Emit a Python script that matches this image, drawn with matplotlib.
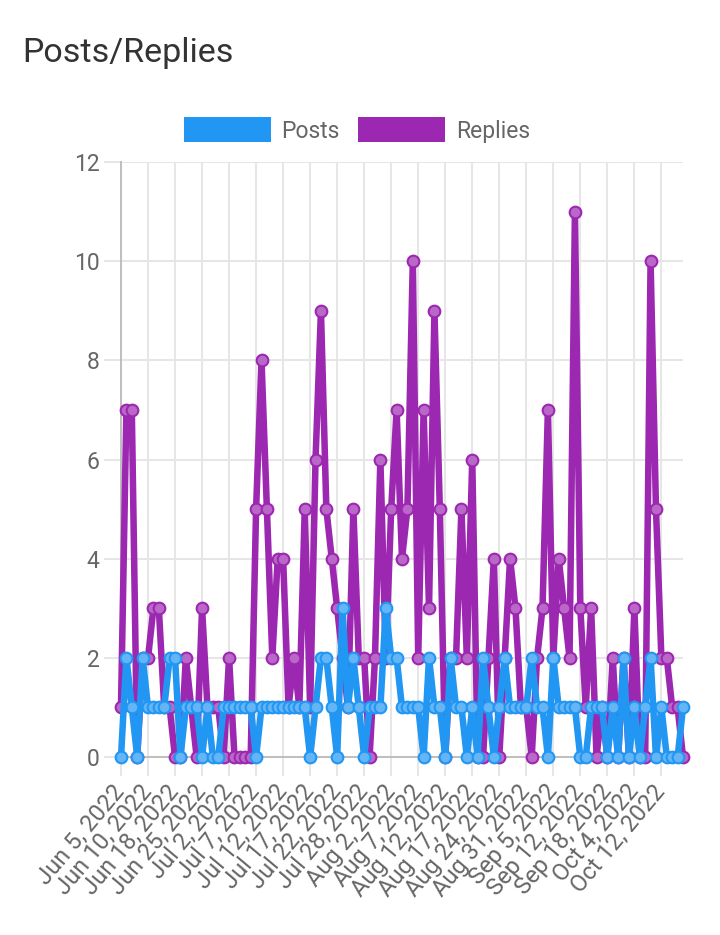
import matplotlib
matplotlib.use("Agg")
import matplotlib.pyplot as plt
from matplotlib.patches import Patch
import numpy as np

plt.rcParams['font.family'] = ['Roboto', 'DejaVu Sans']

# ---- data ----
posts = [0, 2, 1, 0, 2, 1, 1, 1, 1, 2, 2, 0, 1, 1, 1, 0, 1, 0, 0, 1,
         1, 1, 1, 1, 1, 0, 1, 1, 1, 1, 1, 1, 1, 1, 1, 0, 1, 2, 2, 1,
         0, 3, 1, 2, 1, 0, 1, 1, 1, 3, 2, 2, 1, 1, 1, 1, 0, 2, 1, 1,
         0, 2, 1, 1, 0, 1, 0, 2, 1, 0, 1, 2, 1, 1, 1, 1, 2, 1, 1, 0,
         2, 1, 1, 1, 1, 0, 0, 1, 1, 1, 0, 1, 0, 2, 0, 1, 0, 1, 2, 0,
         1, 0, 0, 0, 1]
replies = [1, 7, 7, 0, 2, 2, 3, 3, 1, 1, 0, 0, 2, 1, 0, 3, 1, 1, 1, 0,
           2, 0, 0, 0, 0, 5, 8, 5, 2, 4, 4, 1, 2, 1, 5, 1, 6, 9, 5, 4,
           3, 2, 1, 5, 2, 2, 0, 2, 6, 2, 5, 7, 4, 5, 10, 2, 7, 3, 9, 5,
           0, 2, 2, 5, 2, 6, 0, 0, 2, 4, 0, 2, 4, 3, 1, 1, 0, 2, 3, 7,
           2, 4, 3, 2, 11, 3, 1, 3, 0, 1, 0, 2, 0, 2, 0, 3, 0, 0, 10, 5,
           2, 2, 1, 1, 0]
tick_labels = ["Jun 5, 2022", "Jun 10, 2022", "Jun 18, 2022", "Jun 25, 2022",
               "Jul 2, 2022", "Jul 7, 2022", "Jul 12, 2022", "Jul 17, 2022",
               "Jul 22, 2022", "Jul 28, 2022", "Aug 2, 2022", "Aug 7, 2022",
               "Aug 12, 2022", "Aug 17, 2022", "Aug 24, 2022", "Aug 31, 2022",
               "Sep 5, 2022", "Sep 12, 2022", "Sep 18, 2022", "Oct 4, 2022",
               "Oct 12, 2022"]
label_step = 5
y_ticks = [0, 2, 4, 6, 8, 10, 12]

x = np.arange(len(posts))
tick_pos = x[::label_step][:len(tick_labels)]

W, H = 720, 935
fig = plt.figure(figsize=(W / 100, H / 100), dpi=100)
ax = fig.add_axes([121 / W, (H - 757) / H, (683 - 121) / W, (757 - 162) / H])

grid_c = '#e6e6e6'
zero_c = '#bfbfbf'
txt_c = '#666666'

ax.plot(x, replies, color='#9C27B0', lw=4.7, marker='o', ms=8.4,
        mfc='#BA68C8', mec='#9C27B0', mew=1.5, clip_on=False, zorder=3,
        solid_joinstyle='round', label='Replies')
ax.plot(x, posts, color='#2196F3', lw=4.7, marker='o', ms=8.4,
        mfc='#64B5F6', mec='#2196F3', mew=1.5, clip_on=False, zorder=4,
        solid_joinstyle='round', label='Posts')

ax.set_xlim(0, len(posts) - 1)
ax.set_ylim(0, 12)
ax.set_xticks(tick_pos)
ax.set_xticklabels(tick_labels, rotation=50, ha='right', va='center',
                   rotation_mode='anchor', fontsize=17, color=txt_c)
ax.set_yticks(y_ticks)
ax.set_yticklabels([str(v) for v in y_ticks], fontsize=16.5, color=txt_c)

ax.grid(True, color=grid_c, lw=1.45, zorder=0)
ax.set_axisbelow(True)
for s in ['top', 'right']:
    ax.spines[s].set_visible(False)
for s in ['left', 'bottom']:
    ax.spines[s].set_color(zero_c)
    ax.spines[s].set_linewidth(1.45)

ax.tick_params(axis='y', length=12.5, width=1.45, color=grid_c, pad=3)
ax.tick_params(axis='x', length=14, width=1.45, color=grid_c, pad=8)
ax.xaxis.get_major_ticks()[0].tick1line.set_color(zero_c)
ax.yaxis.get_major_ticks()[0].tick1line.set_color(zero_c)

handles = [Patch(facecolor='#2196F3', edgecolor='none', label='Posts'),
           Patch(facecolor='#9C27B0', edgecolor='none', label='Replies')]
leg = fig.legend(handles=handles, loc='center', bbox_to_anchor=(357 / W, 1 - 130 / H),
                 ncol=2, frameon=False, fontsize=16.5, handlelength=3.8,
                 handleheight=1.3, handletextpad=0.45, columnspacing=0.8,
                 borderaxespad=0, borderpad=0)
for t in leg.get_texts():
    t.set_color(txt_c)

fig.text(22 / W, 1 - 62 / H, "Posts/Replies", fontsize=24.5, color='#333333',
         ha='left', va='baseline')

fig.savefig('out.png', dpi=100, facecolor='white')
